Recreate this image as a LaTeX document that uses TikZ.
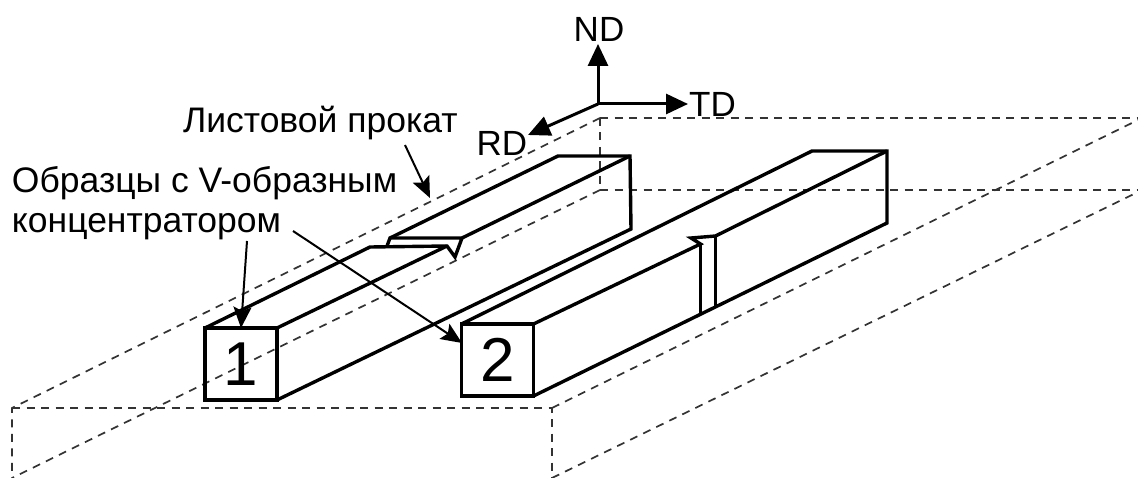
\documentclass[tikz,border=0pt]{standalone}
\usepackage{fontspec}
\setmainfont{Liberation Sans}
\usetikzlibrary{arrows.meta}
\definecolor{dashgray}{HTML}{333333}
\tikzset{
  sheetline/.style={draw=dashgray,line width=1.7pt,dash pattern=on 8pt off 6.5pt},
  body/.style={draw=black,line width=3.4pt,line join=miter},
  callout/.style={draw=black,line width=2pt,-{Stealth[length=21pt,width=18pt,inset=4pt]},shorten >=0pt},
  axis/.style={draw=black,line width=3pt,-{Triangle[length=22pt,width=20pt]}},
  label/.style={inner sep=0pt,outer sep=0pt,font=\fontsize{35.5}{40}\selectfont},
  axislabel/.style={inner sep=0pt,outer sep=0pt,font=\fontsize{35}{40}\selectfont},
  specimen/.style={draw=black,line width=3.4pt,minimum size=72pt,inner sep=0pt,outer sep=0pt,font=\fontsize{62}{70}\selectfont}
}
\begin{document}
\begin{tikzpicture}[x=1pt,y=-1pt]
\useasboundingbox (0,0) rectangle (1138,478);
% sheet (dashed)
\draw[sheetline] (600,118) -- (12,408) -- (12,478);
\draw[sheetline] (12,408) -- (552,408) -- (552,478);
\draw[sheetline] (552,408) -- (1138,120);
\draw[sheetline] (600,118) -- (1138,118);
\draw[sheetline] (600,118) -- (600,190);
\draw[sheetline] (600,190) -- (1138,190);
\draw[sheetline] (600,190) -- (12,478);
\draw[sheetline] (552,478) -- (1138,192);
% specimen 1
\node[specimen] (s1) at (241,364) {1};
\draw[body] (s1.north west) -- (370,247) -- (447,246) -- (455,257) -- (462,238) -- (390,238) -- (387,246);
\draw[body] (390,238) -- (558,156) -- (630,156) -- (631,229) -- (s1.south east);
\draw[body] (462,238) -- (630,156);
\draw[body] (s1.north east) -- (447,246);
% specimen 2
\node[specimen] (s2) at (497.5,360) {2};
\draw[body] (s2.north west) -- (812,151) -- (887,151) -- (887,223) -- (s2.south east);
\draw[body] (s2.north east) -- (700.5,244) -- (691,238) -- (715.5,236) -- (887,151);
\draw[body] (700.5,244) -- (700.5,314);
\draw[body] (715.5,236) -- (715.5,307);
% axes
\coordinate (o) at (598,104);
\node[axislabel] (nd) at (599,29) {ND};
\node[axislabel] (td) at (712.5,104) {TD};
\node[axislabel] (rd) at (502,143) {RD};
\draw[axis] (o) -- (598,44);
\draw[axis] (o) -- (688,104);
\draw[axis] (o) -- (528,135);
% labels
\node[label,anchor=base west] (sheet) at (183,133) {Листовой прокат};
\node[label,anchor=base west] (samples1) at (12,193) {Образцы с V-образным};
\node[label,anchor=base west] (samples2) at (12,233) {концентратором};
% callouts
\coordinate (c1) at (405,145);
\coordinate (c1t) at (430,198);
\coordinate (c2) at (293,231);
\coordinate (c2t) at (462,343);
\coordinate (c3) at (247,241);
\draw[callout] (c1) -- (c1t);
\draw[callout] (c2) -- (c2t);
\draw[callout] (c3) -- (s1.north);
\end{tikzpicture}
\end{document}
